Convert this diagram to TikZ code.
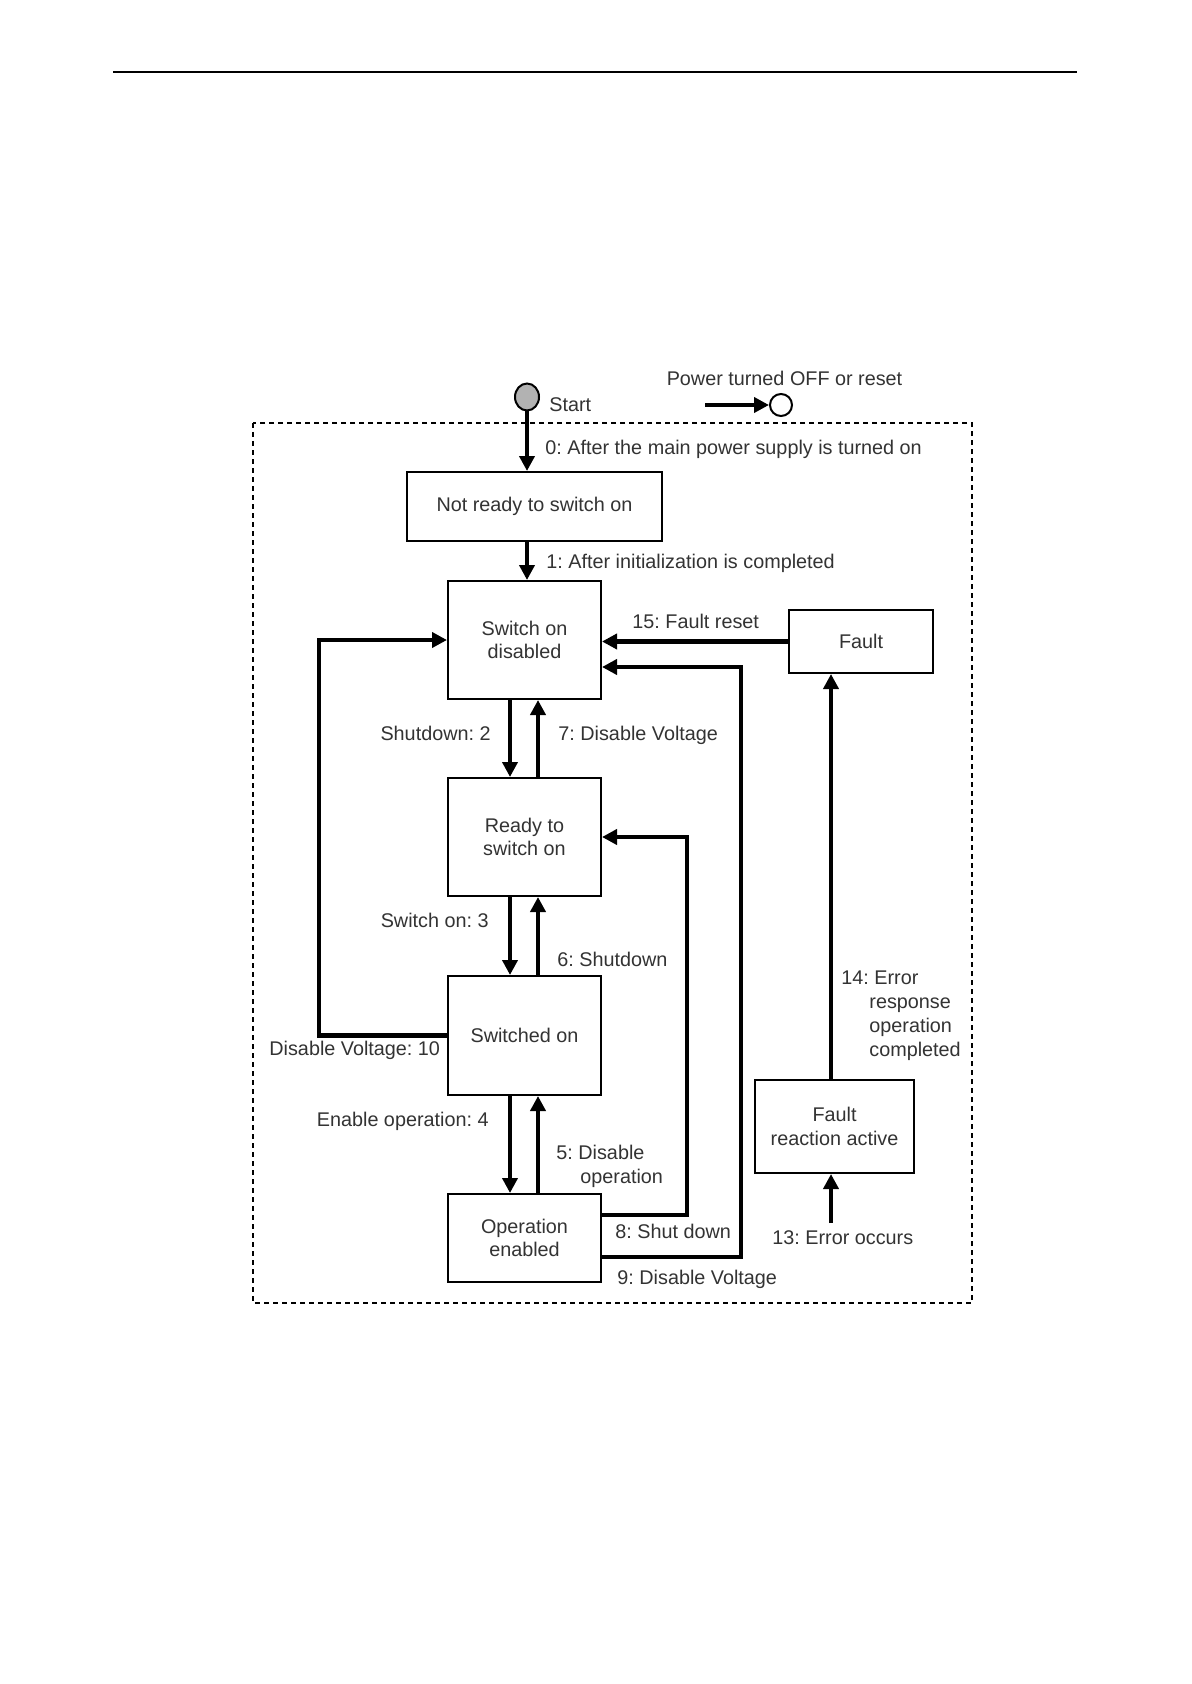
\documentclass[tikz,border=0pt]{standalone}
\usepackage{fontspec}
\setmainfont{Liberation Sans}
\usetikzlibrary{arrows.meta,shapes.geometric}
\newcommand{\txtsize}{\fontsize{9.9}{11.6}\selectfont}
\frenchspacing

\begin{document}
\begin{tikzpicture}[x=0.5pt,y=-0.5pt,
        state/.style={draw,line width=1pt,inner sep=0pt,align=center,font=\txtsize,text=black!80,minimum width=76.5pt},
        lab/.style={inner sep=0pt,font=\txtsize,text=black!80},
        multilab/.style={inner sep=0pt,align=left,font=\fontsize{9.9}{12}\selectfont,text=black!80,anchor=north west},
        trans/.style={line width=2.2pt,-{Triangle[length=7.5pt,width=7.5pt]}},
        frame/.style={line width=0.8pt,dash pattern=on 2.5pt off 2pt}]
        \useasboundingbox[fill=white](0,0)rectangle(1191,1684);
        \draw[line width=0.7pt](113,72)--(1077,72);
        \draw[frame](253,423)rectangle(972,1303);
        \node[state,minimum width=127.5pt,minimum height=34.5pt](notready)at(534.5,506.5){Not ready to switch on};
        \node[state,minimum height=59pt](sod)at(524.5,640){Switch on\\disabled};
        \node[state,minimum height=59pt](ready)at(524.5,837){Ready to\\switch on};
        \node[state,minimum height=59.5pt](swon)at(524.5,1035.5){Switched on};
        \node[state,minimum height=44pt](opena)at(524.5,1238){Operation\\enabled};
        \node[state,minimum width=72pt,minimum height=31.5pt](fault)at(861,641.5){Fault};
        \node[state,minimum width=79.5pt,minimum height=46.5pt](fra)at(834.5,1126.5){Fault\\reaction active};
        \node[ellipse,draw,line width=1pt,fill=black!30,inner sep=0pt,minimum width=12pt,minimum height=13.5pt](start)at(527,397){};
        \node[circle,draw,line width=1pt,inner sep=0pt,minimum size=11pt](off)at(781,405){};
        \coordinate(offin)at(705,405);
        \coordinate(dn)at(510,0);
        \coordinate(up)at(538,0);
        \coordinate(lft)at(319,0);
        \coordinate(v14)at(831,0);
        \coordinate(err)at(831,1223);
        \draw[trans](offin)--(off);
        \draw[trans](start)--(start|-notready.north);
        \draw[trans](start|-notready.south)--(start|-sod.north);
        \draw[trans](dn|-sod.south)--(dn|-ready.north);
        \draw[trans](up|-ready.north)--(up|-sod.south);
        \draw[trans](dn|-ready.south)--(dn|-swon.north);
        \draw[trans](up|-swon.north)--(up|-ready.south);
        \draw[trans](dn|-swon.south)--(dn|-opena.north);
        \draw[trans](up|-opena.north)--(up|-swon.south);
        \draw[trans](swon.west)--(lft|-swon.west)|-(sod.west);
        \draw[trans](fault.west)--(sod.east|-fault.west);
        \draw[trans]([yshift=-9.5pt]opena.east)-|([xshift=69.5pt,yshift=-13.5pt]sod.east)--([yshift=-13.5pt]sod.east);
        \draw[trans]([yshift=11.5pt]opena.east)-|([xshift=42.5pt]ready.east)--(ready.east);
        \draw[trans](v14|-fra.north)--(v14|-fault.south);
        \draw[trans](err)--(err|-fra.south);
        \node[lab,anchor=base](lpower)at(784.5,386){Power turned OFF or reset};
        \node[lab,anchor=base west](lstart)at(549,412){Start};
        \node[lab,anchor=base west](l0)at(545,454){0: After the main power supply is turned on};
        \node[lab,anchor=base west](l1)at(546,568){1: After initialization is completed};
        \node[lab,anchor=base west](l15)at(632,628){15: Fault reset};
        \node[lab,anchor=base east](l2)at(491,740){Shutdown: 2};
        \node[lab,anchor=base west](l7)at(558,740){7: Disable Voltage};
        \node[lab,anchor=base east](l3)at(489,927){Switch on: 3};
        \node[lab,anchor=base west](l6)at(557,966){6: Shutdown};
        \node[lab,anchor=base west](l10)at(269,1055){Disable Voltage: 10};
        \node[lab,anchor=base east](l4)at(489,1126){Enable operation: 4};
        \node[multilab](l5)at(556,1145){5: Disable\\\hspace*{12pt}operation};
        \node[lab,anchor=base west](l8)at(615,1238){8: Shut down};
        \node[lab,anchor=base west](l9)at(617,1284){9: Disable Voltage};
        \node[lab,anchor=base west](l13)at(772,1244){13: Error occurs};
        \node[multilab](l14)at(841,970){14: Error\\\hspace*{14pt}response\\\hspace*{14pt}operation\\\hspace*{14pt}completed};
\end{tikzpicture}
\end{document}
